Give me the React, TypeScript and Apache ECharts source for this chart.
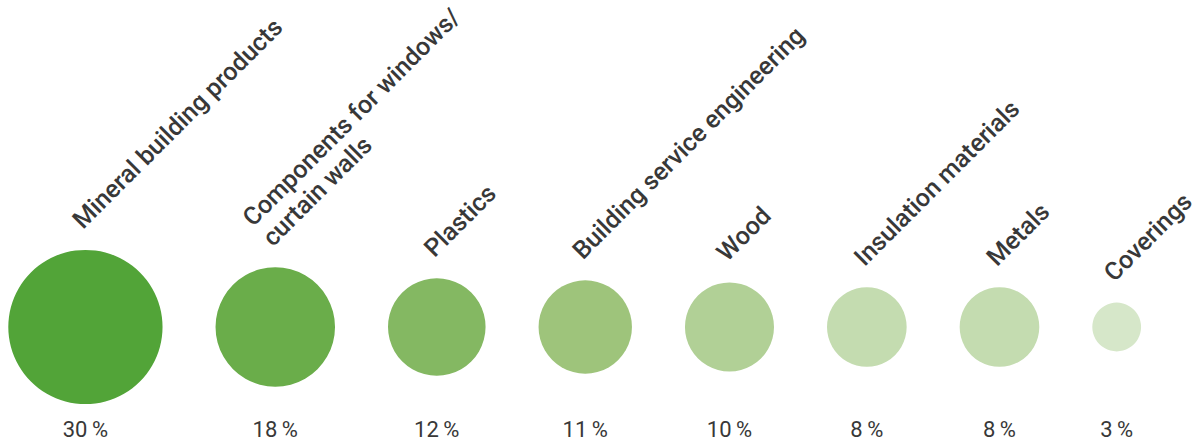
import React, { useEffect, useRef } from "react";
import * as echarts from "echarts";

const categories = [
  "Mineral building products",
  "Components for windows/\ncurtain walls",
  "Plastics",
  "Building service engineering",
  "Wood",
  "Insulation materials",
  "Metals",
  "Coverings",
];
const shares = [30, 18, 12, 11, 10, 8, 8, 3];
const colors = [
  "#52a438",
  "#6aad4a",
  "#84b862",
  "#9ec47b",
  "#b1d096",
  "#c4dcb0",
  "#c4dcb0",
  "#d6e7c9",
];

const RADIUS_K = 14.08; // px per sqrt(percent)
const GAP = 53;
const PAGE_W = 1199;
const PAGE_H = 441;
const PLOT_W = 1183;
const TEXT = "#383838";
const FONT = "Roboto, 'Noto Sans', sans-serif";

export default function App() {
  const ref = useRef<HTMLDivElement>(null);
  useEffect(() => {
    if (!ref.current) return;
    const chart = echarts.init(ref.current, undefined, { renderer: "svg" });
    // horizontal layout: circles placed side by side with constant gap
    const radii = shares.map((v) => RADIUS_K * Math.sqrt(v));
    const centers: number[] = [];
    let cursor = 0.3;
    radii.forEach((r) => {
      centers.push(cursor + r);
      cursor += 2 * r + GAP;
    });
    const data = shares.map((v, i) => ({
      name: categories[i],
      value: [centers[i], 0, v],
    }));
    chart.setOption({
      animation: false,
      grid: { left: 8, width: PLOT_W, top: 227, height: 200 },
      xAxis: { type: "value", min: 0, max: PLOT_W, show: false },
      yAxis: { type: "value", min: -1, max: 1, show: false },
      series: [
        {
          type: "custom",
          data,
          renderItem: (params: any, api: any) => {
            const idx = params.dataIndex;
            const v = api.value(2);
            const [px, py] = api.coord([api.value(0), api.value(1)]);
            const r = RADIUS_K * Math.sqrt(v);
            return {
              type: "group",
              children: [
                {
                  type: "circle",
                  shape: { cx: px, cy: py, r },
                  style: { fill: colors[idx] },
                },
                {
                  type: "text",
                  x: px + 1.5,
                  y: py - r - 16,
                  rotation: Math.PI / 4,
                  style: {
                    text: categories[idx],
                    fill: TEXT,
                    font: `500 25px ${FONT}`,
                    align: "left",
                    verticalAlign: "bottom",
                    lineHeight: 28,
                  },
                },
                {
                  type: "text",
                  x: px,
                  y: py + 102.5,
                  style: {
                    text: `${v}\u2009%`,
                    fill: TEXT,
                    font: `400 22px ${FONT}`,
                    align: "center",
                    verticalAlign: "middle",
                  },
                },
              ],
            };
          },
        },
      ],
    });
    return () => chart.dispose();
  }, []);
  return (
    <div
      ref={ref}
      style={{ position: "absolute", left: 0, top: 0, width: PAGE_W, height: PAGE_H }}
    />
  );
}
